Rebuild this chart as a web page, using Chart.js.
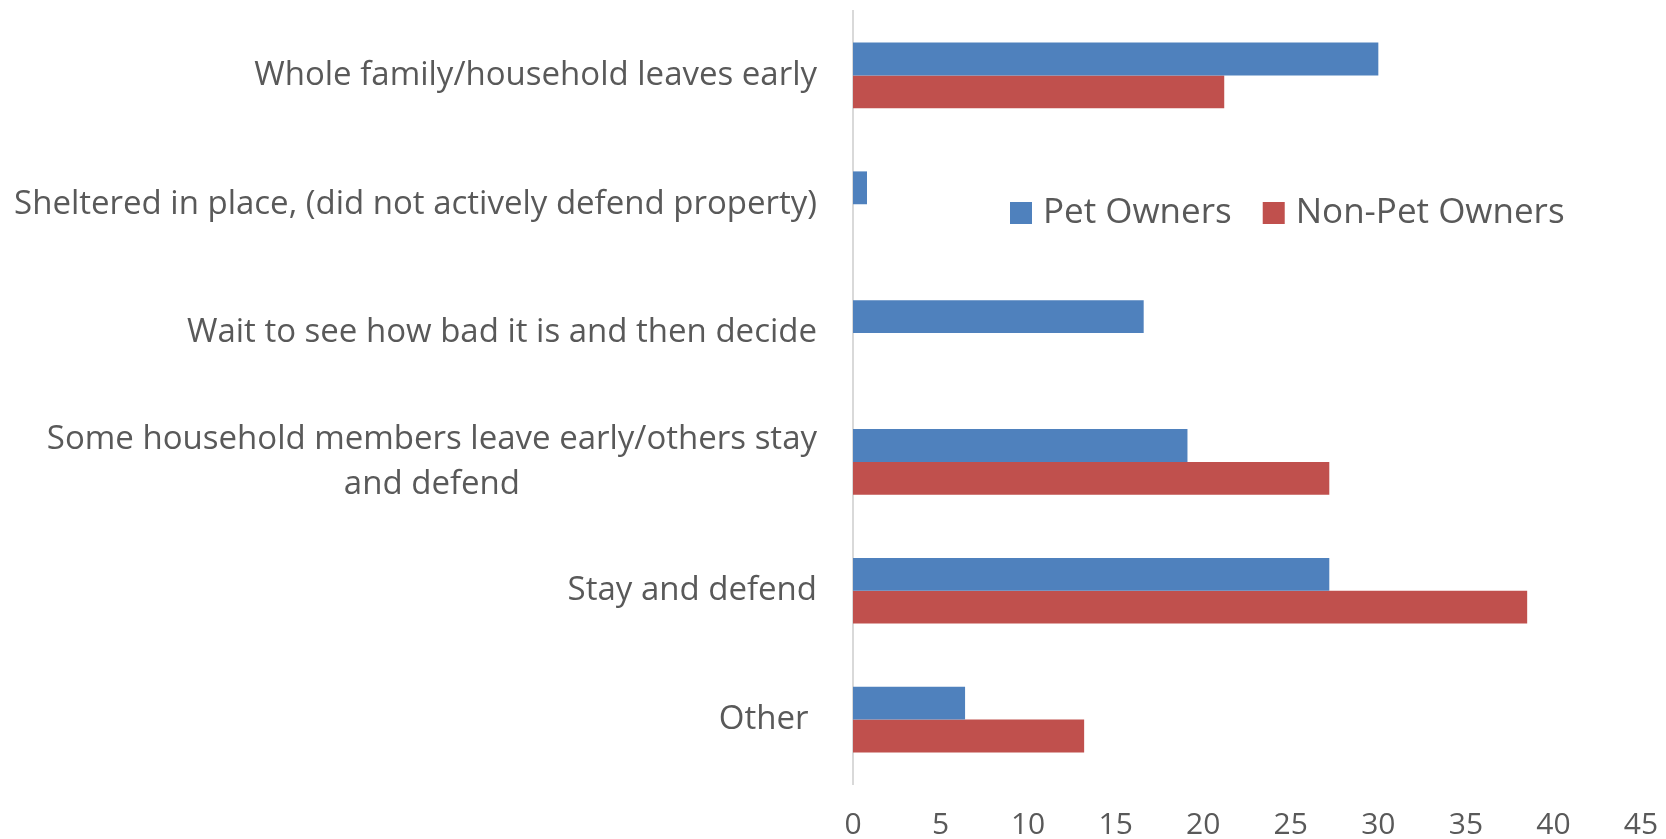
<!DOCTYPE html>
<html><head><meta charset="utf-8">
<script src="https://cdn.jsdelivr.net/npm/chart.js@4/dist/chart.umd.min.js"></script>
<style>html,body{margin:0;padding:0;background:#fff;overflow:hidden;}</style>
</head><body>
<canvas id="c" width="1666" height="839" style="width:1666px;height:839px;display:block"></canvas>
<script>
const categories = [
  ["Whole family/household leaves early"],
  ["Sheltered in place, (did not actively defend property)"],
  ["Wait to see how bad it is and then decide"],
  ["Some household members leave early/others stay", "and defend"],
  ["Stay and defend"],
  ["Other "]
];
const seriesNames = ["Pet Owners", "Non-Pet Owners"];
const petOwners = [30.0, 0.8, 16.6, 19.1, 27.2, 6.4];
const nonPetOwners = [21.2, 0, 0, 27.2, 38.5, 13.2];
const xTickMin = 0, xTickMax = 45, xTickStep = 5;

const FONT = '"Open Sans", sans-serif';
const TEXT = '#595959';
const colors = ['#4F81BD', '#C0504D'];

const yLabelPlugin = {
  id: 'yLabels',
  afterDraw(chart) {
    const ctx = chart.ctx, ys = chart.scales.y, area = chart.chartArea;
    ctx.save();
    ctx.font = '33px ' + FONT;
    ctx.fillStyle = TEXT;
    ctx.textBaseline = 'middle';
    ctx.textAlign = 'center';
    const right = area.left - 36;
    const lh = 45.5;
    chart.data.labels.forEach((lines, i) => {
      const cy = ys.getPixelForTick(i);
      const maxW = Math.max(...lines.map(l => ctx.measureText(l).width));
      const cx = right - maxW / 2;
      const y0 = cy - (lines.length - 1) * lh / 2;
      lines.forEach((l, j) => ctx.fillText(l, cx, y0 + j * lh));
    });
    ctx.restore();
  }
};

const legendPlugin = {
  id: 'customLegend',
  afterDraw(chart) {
    const ctx = chart.ctx;
    ctx.save();
    ctx.font = '35px ' + FONT;
    ctx.textBaseline = 'middle';
    ctx.textAlign = 'left';
    let x = 1010;
    const cy = 213, box = 22;
    chart.data.datasets.forEach((ds, i) => {
      ctx.fillStyle = ds.backgroundColor;
      ctx.fillRect(x, cy - box / 2, box, box);
      x += box + 11;
      ctx.fillStyle = TEXT;
      ctx.fillText(ds.label, x, cy);
      x += ctx.measureText(ds.label).width + 31;
    });
    ctx.restore();
  }
};

new Chart(document.getElementById('c'), {
  type: 'bar',
  data: {
    labels: categories,
    datasets: [
      { label: seriesNames[0], data: petOwners, backgroundColor: colors[0], borderWidth: 0 },
      { label: seriesNames[1], data: nonPetOwners, backgroundColor: colors[1], borderWidth: 0 }
    ]
  },
  options: {
    indexAxis: 'y',
    responsive: false,
    devicePixelRatio: 1,
    animation: false,
    layout: { padding: { top: 11, right: 25, left: 0, bottom: 0 } },
    datasets: { bar: { categoryPercentage: 0.51, barPercentage: 1.0 } },
    plugins: { legend: { display: false }, tooltip: { enabled: false } },
    scales: {
      x: {
        min: xTickMin, max: xTickMax,
        ticks: { stepSize: xTickStep, color: TEXT, font: { family: FONT, size: 30 }, padding: 23, maxRotation: 0 },
        grid: { display: false, drawTicks: false },
        border: { display: false },
        afterFit(s) { s.height = 55; s.paddingRight = 0; s.paddingLeft = 0; }
      },
      y: {
        ticks: { display: false },
        grid: { display: false, drawTicks: false },
        border: { display: true, color: '#d9d9d9', width: 2 },
        afterFit(s) { s.width = 853; }
      }
    }
  },
  plugins: [yLabelPlugin, legendPlugin]
});
</script>
</body></html>
